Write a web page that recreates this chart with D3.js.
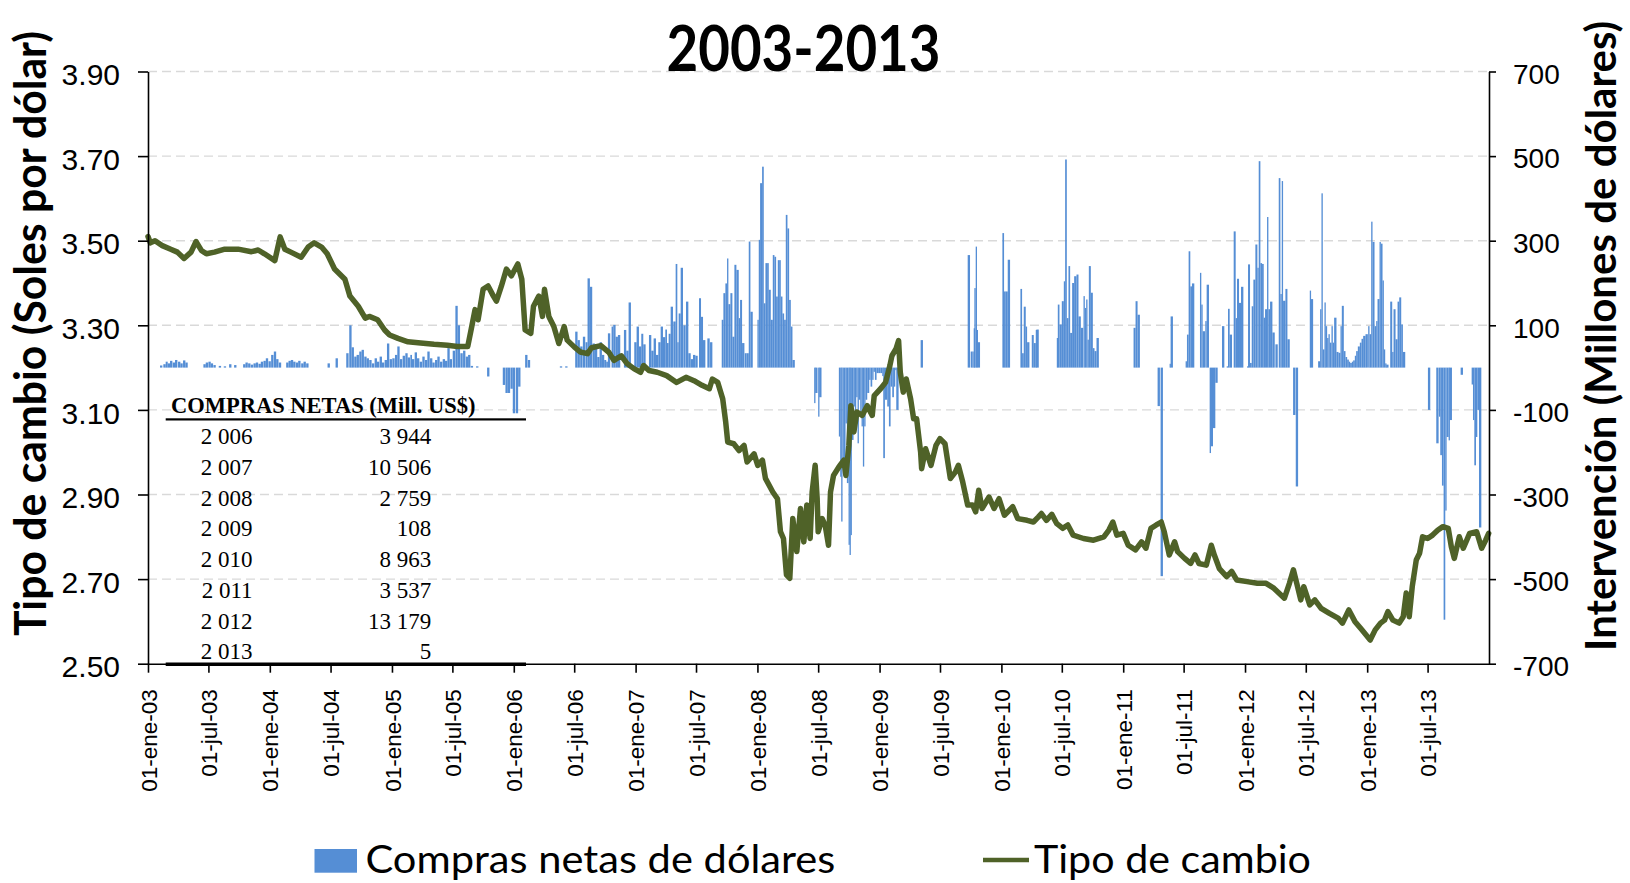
<!DOCTYPE html>
<html><head><meta charset="utf-8">
<script src="https://cdn.jsdelivr.net/npm/d3@7"></script>
<style>body{margin:0;background:#fff}svg{display:block}</style>
</head><body>
<svg id="chart" width="1630" height="883"></svg>
<script>
// ---------------- DATA ----------------
const chartTitle = "2003-2013";
const leftAxisTitle = "Tipo de cambio (Soles por dólar)";
const rightAxisTitle = "Intervención (Millones de dólares)";
const legendLabels = ["Compras netas de dólares", "Tipo de cambio"];
const leftTicks = [2.50, 2.70, 2.90, 3.10, 3.30, 3.50, 3.70, 3.90];
const rightTicks = [-700, -500, -300, -100, 100, 300, 500, 700];
const xTickDates = ["2003-01-01","2003-07-01","2004-01-01","2004-07-01","2005-01-01","2005-07-01","2006-01-01","2006-07-01","2007-01-01","2007-07-01","2008-01-01","2008-07-01","2009-01-01","2009-07-01","2010-01-01","2010-07-01","2011-01-01","2011-07-01","2012-01-01","2012-07-01","2013-01-01","2013-07-01"];
const spanishMonths = ["ene","feb","mar","abr","may","jun","jul","ago","sep","oct","nov","dic"];

const tableHeader = "COMPRAS NETAS (Mill. US$)";
const tableYears = ["2 006","2 007","2 008","2 009","2 010","2 011","2 012","2 013"];
const tableValues = ["3 944","10 506","2 759","108","8 963","3 537","13 179","5"];

// Tipo de cambio (soles por dólar)
const exchangeRate = [
["2003-01-01",3.51],["2003-01-08",3.495],["2003-01-22",3.50],["2003-02-11",3.489],["2003-03-10",3.48],["2003-03-30",3.473],["2003-04-19",3.458],["2003-05-10",3.473],["2003-05-25",3.498],["2003-06-10",3.477],["2003-06-25",3.469],["2003-07-19",3.473],["2003-08-19",3.48],["2003-09-28",3.48],["2003-11-07",3.474],["2003-11-27",3.478],["2003-12-16",3.469],
["2004-01-16",3.453],["2004-02-01",3.509],["2004-02-15",3.48],["2004-03-04",3.473],["2004-04-04",3.461],["2004-04-25",3.485],["2004-05-13",3.495],["2004-06-04",3.485],["2004-06-21",3.469],["2004-07-13",3.433],["2004-08-13",3.409],["2004-08-28",3.369],["2004-09-22",3.345],["2004-10-13",3.317],["2004-10-25",3.321],["2004-11-19",3.313],["2004-12-10",3.289],["2004-12-25",3.277],
["2005-01-19",3.269],["2005-02-18",3.261],["2005-03-28",3.258],["2005-05-07",3.255],["2005-06-16",3.253],["2005-07-16",3.25],["2005-08-16",3.25],["2005-08-25",3.285],["2005-09-07",3.337],["2005-09-16",3.313],["2005-10-01",3.385],["2005-10-16",3.393],["2005-11-01",3.369],["2005-11-10",3.357],["2005-11-25",3.393],["2005-12-10",3.433],["2005-12-25",3.417],
["2006-01-13",3.445],["2006-01-25",3.409],["2006-02-04",3.289],["2006-02-21",3.281],["2006-03-01",3.345],["2006-03-17",3.369],["2006-03-28",3.321],["2006-04-03",3.385],["2006-04-16",3.321],["2006-05-01",3.297],["2006-05-16",3.257],["2006-06-01",3.297],["2006-06-10",3.265],["2006-07-01",3.249],["2006-07-19",3.237],["2006-08-10",3.233],["2006-08-22",3.247],["2006-09-19",3.252],["2006-10-13",3.236],["2006-10-28",3.217],["2006-11-19",3.228],["2006-12-07",3.209],["2006-12-28",3.197],
["2007-01-16",3.189],["2007-01-25",3.205],["2007-02-10",3.193],["2007-03-07",3.189],["2007-04-04",3.181],["2007-05-04",3.165],["2007-06-01",3.177],["2007-06-25",3.169],["2007-07-19",3.158],["2007-08-10",3.15],["2007-08-19",3.173],["2007-09-04",3.165],["2007-09-19",3.126],["2007-09-28",3.071],["2007-10-04",3.024],["2007-10-22",3.020],["2007-11-07",3.004],["2007-11-22",3.016],["2007-12-01",2.977],["2007-12-22",2.996],
["2008-01-02",2.969],["2008-01-16",2.981],["2008-01-25",2.938],["2008-02-16",2.906],["2008-03-01",2.890],["2008-03-10",2.812],["2008-03-19",2.796],["2008-03-28",2.710],["2008-04-07",2.702],["2008-04-16",2.843],["2008-04-28",2.765],["2008-05-09",2.867],["2008-05-19",2.788],["2008-05-28",2.875],["2008-06-07",2.796],["2008-06-13",2.906],["2008-06-22",2.969],["2008-06-28",2.890],["2008-07-01",2.812],["2008-07-13",2.843],["2008-07-22",2.827],["2008-08-01",2.780],["2008-08-07",2.906],["2008-08-16",2.945],["2008-09-01",2.965],["2008-09-16",2.981],["2008-09-22",2.945],["2008-10-01",3.016],["2008-10-07",3.110],["2008-10-16",3.048],["2008-10-25",3.095],["2008-11-10",3.087],["2008-11-25",3.110],["2008-12-10",3.087],["2008-12-16",3.134],
["2009-01-04",3.150],["2009-01-19",3.165],["2009-02-01",3.205],["2009-02-07",3.228],["2009-02-19",3.244],["2009-02-27",3.264],["2009-03-04",3.189],["2009-03-13",3.142],["2009-03-22",3.173],["2009-04-04",3.126],["2009-04-13",3.079],["2009-04-22",3.079],["2009-05-04",3.0],["2009-05-07",2.961],["2009-05-19",3.008],["2009-06-04",2.969],["2009-06-19",3.016],["2009-07-01",3.032],["2009-07-16",3.020],["2009-08-01",2.938],["2009-08-16",2.953],["2009-08-25",2.969],["2009-09-07",2.930],["2009-09-22",2.875],["2009-10-07",2.875],["2009-10-16",2.859],["2009-10-25",2.910],["2009-11-04",2.867],["2009-11-25",2.894],["2009-12-10",2.867],["2009-12-25",2.890],
["2010-01-10",2.851],["2010-02-04",2.871],["2010-02-19",2.843],["2010-03-19",2.839],["2010-04-07",2.835],["2010-04-22",2.847],["2010-05-01",2.855],["2010-05-16",2.839],["2010-06-01",2.853],["2010-06-16",2.831],["2010-07-04",2.820],["2010-07-19",2.828],["2010-08-04",2.804],["2010-09-04",2.796],["2010-10-04",2.792],["2010-11-04",2.800],["2010-11-19",2.816],["2010-12-01",2.835],["2010-12-13",2.804],
["2011-01-01",2.808],["2011-01-16",2.780],["2011-02-07",2.769],["2011-02-25",2.788],["2011-03-10",2.773],["2011-03-25",2.820],["2011-04-10",2.828],["2011-04-25",2.835],["2011-05-04",2.812],["2011-05-19",2.757],["2011-06-04",2.788],["2011-06-13",2.765],["2011-07-04",2.749],["2011-07-22",2.737],["2011-08-04",2.757],["2011-08-16",2.737],["2011-09-07",2.733],["2011-09-22",2.780],["2011-10-01",2.757],["2011-10-16",2.725],["2011-11-07",2.706],["2011-11-22",2.718],["2011-12-07",2.698],
["2012-01-07",2.694],["2012-02-07",2.690],["2012-03-04",2.690],["2012-03-28",2.678],["2012-04-28",2.655],["2012-05-13",2.690],["2012-05-25",2.722],["2012-06-04",2.690],["2012-06-16",2.651],["2012-06-25",2.682],["2012-07-13",2.639],["2012-07-28",2.651],["2012-08-16",2.631],["2012-09-10",2.619],["2012-10-07",2.607],["2012-10-19",2.596],["2012-11-07",2.627],["2012-11-25",2.600],["2012-12-16",2.580],
["2013-01-10",2.556],["2013-01-25",2.580],["2013-02-10",2.596],["2013-02-22",2.603],["2013-03-04",2.623],["2013-03-19",2.603],["2013-04-07",2.596],["2013-04-19",2.611],["2013-04-28",2.667],["2013-05-07",2.611],["2013-05-16",2.682],["2013-05-28",2.745],["2013-06-07",2.761],["2013-06-16",2.800],["2013-07-01",2.796],["2013-07-16",2.804],["2013-08-01",2.816],["2013-08-16",2.824],["2013-09-01",2.820],["2013-09-10",2.777],["2013-09-19",2.749],["2013-10-04",2.800],["2013-10-16",2.773],["2013-11-04",2.808],["2013-11-25",2.812],["2013-12-10",2.773],["2013-12-22",2.792],["2013-12-31",2.808]
];

// Compras netas de dólares (millones US$)
const netPurchases = [
["2003-02-06",5],["2003-02-16",8],["2003-02-23",14],["2003-03-01",10],["2003-03-08",16],["2003-03-16",12],["2003-03-23",18],["2003-04-01",14],["2003-04-08",10],["2003-04-16",17],["2003-04-23",12],
["2003-06-16",8],["2003-06-23",12],["2003-07-01",14],["2003-07-08",10],["2003-07-16",6],["2003-08-01",4],["2003-08-16",3],["2003-09-01",8],["2003-09-16",6],
["2003-10-13",8],["2003-10-20",12],["2003-10-28",10],["2003-11-05",7],["2003-11-13",10],["2003-11-20",12],["2003-11-28",9],["2003-12-05",14],["2003-12-13",16],["2003-12-20",22],["2003-12-28",15],
["2004-01-05",30],["2004-01-13",38],["2004-01-20",20],["2004-01-28",12],
["2004-02-19",12],["2004-02-26",16],["2004-03-04",18],["2004-03-11",14],["2004-03-19",12],["2004-03-26",16],["2004-04-04",10],["2004-04-11",14],["2004-04-19",10],
["2004-06-22",10],["2004-07-16",22],
["2004-08-17",34],["2004-08-26",100],["2004-09-02",48],["2004-09-10",26],["2004-09-17",30],["2004-09-25",38],["2004-10-02",42],["2004-10-10",26],["2004-10-17",22],["2004-10-25",18],["2004-11-02",10],["2004-11-10",22],["2004-11-17",14],["2004-11-25",26],["2004-12-02",12],["2004-12-10",18],["2004-12-17",57],["2004-12-25",20],
["2005-01-02",22],["2005-01-10",30],["2005-01-17",50],["2005-01-25",20],["2005-02-02",28],["2005-02-10",34],["2005-02-17",24],["2005-02-25",30],["2005-03-02",20],["2005-03-10",36],["2005-03-17",22],["2005-03-25",14],["2005-04-02",26],["2005-04-10",18],["2005-04-17",38],["2005-04-25",22],["2005-05-02",12],["2005-05-10",18],["2005-05-17",26],["2005-05-25",14],["2005-06-02",20],["2005-06-09",16],["2005-06-16",46],["2005-06-23",20],["2005-07-02",40],["2005-07-10",146],["2005-07-17",100],["2005-07-25",34],["2005-08-02",40],["2005-08-10",26],["2005-08-17",30],["2005-08-25",4],["2005-09-10",3],
["2005-10-13",-21],["2005-11-29",-41],["2005-12-07",-60],["2005-12-14",-60],["2005-12-22",-50],["2005-12-29",-108],["2006-01-07",-108],["2006-01-14",-45],
["2006-02-04",30],["2006-02-12",18],["2006-05-19",3],["2006-06-04",3],
["2006-07-04",85],["2006-07-11",65],["2006-07-19",50],["2006-07-27",73],["2006-08-04",60],["2006-08-10",211],["2006-08-17",191],["2006-08-25",57],
["2006-09-01",45],["2006-09-08",25],["2006-09-15",60],["2006-09-22",30],["2006-09-29",18],["2006-10-05",14],["2006-10-10",81],["2006-10-21",97],["2006-10-26",101],["2006-11-02",73],["2006-11-09",77],["2006-11-27",89],["2006-12-04",40],["2006-12-11",154],["2006-12-28",60],
["2007-01-04",97],["2007-01-11",50],["2007-01-18",80],["2007-01-24",55],["2007-02-10",77],["2007-02-17",40],["2007-02-24",69],["2007-03-03",30],["2007-03-10",60],["2007-03-17",97],["2007-03-24",72],["2007-03-31",90],["2007-04-05",58],["2007-04-10",80],["2007-04-16",144],["2007-04-24",109],["2007-05-01",245],["2007-05-06",60],["2007-05-10",128],["2007-05-16",236],["2007-05-24",100],["2007-06-01",156],["2007-06-08",34],["2007-06-15",20],["2007-06-22",30],["2007-06-29",28],["2007-07-10",164],["2007-07-16",120],["2007-07-22",65],["2007-08-04",69],["2007-08-12",60],
["2007-09-16",113],["2007-09-21",176],["2007-09-27",199],["2007-10-02",258],["2007-10-06",150],["2007-10-12",176],["2007-10-18",73],["2007-10-24",243],["2007-10-30",231],["2007-11-06",117],["2007-11-10",160],["2007-11-16",58],["2007-11-24",34],["2007-11-29",34],["2007-12-06",298],["2007-12-11",132],
["2008-01-01",113],["2008-01-05",302],["2008-01-09",436],["2008-01-15",475],["2008-01-20",152],["2008-01-25",247],["2008-01-30",247],["2008-02-04",184],["2008-02-10",113],["2008-02-16",266],["2008-02-21",262],["2008-02-26",168],["2008-03-02",254],["2008-03-06",254],["2008-03-11",168],["2008-03-16",128],["2008-03-21",113],["2008-03-26",361],["2008-03-31",329],["2008-04-05",160],["2008-04-10",97],["2008-04-15",18],
["2008-06-19",-84],["2008-06-22",-60],["2008-07-01",-116],["2008-07-04",-70],
["2008-09-01",-163],["2008-09-05",-258],["2008-09-08",-364],["2008-09-12",-218],["2008-09-16",-218],["2008-09-21",-132],["2008-09-25",-273],["2008-09-30",-419],["2008-10-03",-443],["2008-10-06",-396],["2008-10-10",-171],["2008-10-15",-92],["2008-10-19",-150],["2008-10-23",-70],["2008-10-27",-179],["2008-10-31",-76],["2008-11-04",-116],["2008-11-08",-139],["2008-11-12",-234],["2008-11-16",-139],["2008-11-20",-76],["2008-11-25",-60],["2008-12-01",-29],["2008-12-05",-45],["2008-12-10",-29],["2008-12-14",-10],["2008-12-18",-29],["2008-12-23",-13],["2008-12-28",-13],
["2009-01-04",-13],["2009-01-09",-20],["2009-01-12",-214],["2009-01-17",-76],["2009-01-24",-92],["2009-01-29",-139],["2009-02-03",-45],["2009-02-08",-70],["2009-02-13",-45],["2009-02-17",-6],["2009-02-20",-100],
["2009-05-04",65],
["2009-09-22",266],["2009-10-01",38],["2009-10-06",38],["2009-10-10",93],["2009-10-12",188],["2009-10-16",286],["2009-10-19",89],["2009-10-22",60],
["2010-01-04",318],["2010-01-09",180],["2010-01-14",180],["2010-01-20",255],["2010-02-27",186],["2010-03-04",34],["2010-03-09",144],["2010-03-15",97],["2010-03-19",60],["2010-04-02",77],["2010-04-08",58],["2010-04-14",89],["2010-04-16",90],
["2010-06-16",70],["2010-06-19",149],["2010-06-24",102],["2010-07-01",157],["2010-07-07",204],["2010-07-11",492],["2010-07-16",117],["2010-07-21",240],["2010-07-26",82],["2010-08-01",200],["2010-08-07",216],["2010-08-14",220],["2010-08-20",121],["2010-08-27",94],["2010-09-04",169],["2010-09-08",141],["2010-09-12",161],["2010-09-16",66],["2010-09-20",240],["2010-09-26",177],["2010-10-02",46],["2010-10-07",39],["2010-10-13",70],
["2011-02-01",94],["2011-02-07",157],["2011-02-13",125],
["2011-04-14",-91],["2011-04-23",-493],
["2011-05-20",9],["2011-05-23",121],
["2011-07-07",15],["2011-07-11",78],["2011-07-16",275],["2011-07-21",192],["2011-07-26",199],["2011-08-19",224],["2011-08-23",149],["2011-08-27",86],["2011-09-04",110],["2011-09-08",196],
["2011-09-17",-202],["2011-09-21",-186],["2011-09-27",-143],["2011-10-04",-36],
["2011-10-24",98],["2011-11-07",3],["2011-11-11",139],["2011-11-16",78],["2011-11-28",322],["2011-12-04",117],["2011-12-08",210],["2011-12-14",153],["2011-12-20",191],
["2012-01-07",3],["2012-01-10",244],["2012-01-16",11],["2012-01-21",145],["2012-01-26",208],["2012-02-01",291],["2012-02-07",236],["2012-02-11",488],["2012-02-16",247],["2012-02-21",245],["2012-02-26",118],["2012-03-01",138],["2012-03-07",356],["2012-03-11",138],["2012-03-16",156],["2012-03-23",83],["2012-04-01",55],["2012-04-11",448],["2012-04-16",174],["2012-04-20",441],["2012-04-24",158],["2012-05-01",186],["2012-05-07",67],
["2012-05-24",-112],["2012-06-01",-281],
["2012-07-13",182],["2012-07-16",162],
["2012-08-07",15],["2012-08-13",138],["2012-08-17",412],["2012-08-21",43],["2012-08-26",154],["2012-08-29",98],["2012-09-03",70],["2012-09-07",79],["2012-09-11",59],["2012-09-16",98],["2012-09-20",59],["2012-09-24",118],["2012-10-01",37],["2012-10-07",35],["2012-10-13",98],["2012-10-17",146],["2012-10-23",39],["2012-10-28",25],["2012-11-02",19],["2012-11-07",14],["2012-11-11",11],["2012-11-16",14],["2012-11-20",17],["2012-11-25",28],["2012-11-29",39],["2012-12-04",50],["2012-12-10",59],["2012-12-15",68],["2012-12-20",75],["2012-12-27",79],
["2013-01-04",98],["2013-01-08",79],["2013-01-13",345],["2013-01-17",297],["2013-01-23",98],["2013-01-28",110],["2013-02-01",162],["2013-02-07",297],["2013-02-11",293],["2013-02-16",206],["2013-02-20",43],["2013-02-24",10],["2013-02-27",7],
["2013-03-11",156],["2013-03-17",37],["2013-03-21",138],["2013-03-27",67],["2013-04-02",156],["2013-04-07",166],["2013-04-13",102],["2013-04-18",37],
["2013-07-02",-100],["2013-07-27",-179],["2013-08-04",-116],["2013-08-08",-207],["2013-08-13",-279],["2013-08-18",-596],["2013-08-23",-338],["2013-08-27",-164],["2013-09-02",-172],["2013-09-05",-124],
["2013-10-08",-17],["2013-11-10",-40],["2013-11-14",-124],["2013-11-18",-231],["2013-11-23",-164],["2013-11-27",-100],["2013-12-02",-378]
];

// ---------------- CHART ----------------
const parse = d3.timeParse("%Y-%m-%d");
const svg = d3.select("#chart");
const barColor = "#558ED5", lineColor = "#4F6228";
const sansTick = "'Liberation Sans', Arial, sans-serif";
const calib = "Lato, 'Open Sans', sans-serif";
const serif = "'Liberation Serif', 'Times New Roman', serif";

const x = d3.scaleTime().domain([parse("2003-01-01"), parse("2014-01-01")]).range([148, 1489]);
const yL = d3.scaleLinear().domain([2.5, 3.9]).range([663.7, 71.5]);
const yR = d3.scaleLinear().domain([-700, 700]).range([663.7, 71.5]);

// gridlines
svg.append("g").selectAll("line").data(leftTicks.filter(t => t > 2.5)).join("line")
  .attr("x1", x.range()[0]).attr("x2", x.range()[1])
  .attr("y1", d => yL(d)).attr("y2", d => yL(d))
  .attr("stroke", "#d9d9d9").attr("stroke-width", 1.4).attr("stroke-dasharray", "9,5");

// bars
const bars = netPurchases.map(d => ({date: parse(d[0]), v: d[1]})).sort((a, b) => a.date - b.date);
const maxW = x(parse("2003-01-08")) - x(parse("2003-01-01"));
bars.forEach((b, i) => {
  const nx = i < bars.length - 1 ? x(bars[i + 1].date) - x(b.date) : maxW;
  b.w = Math.max(1.3, Math.min(nx, maxW));
});
svg.append("g").selectAll("rect").data(bars).join("rect")
  .attr("x", d => x(d.date))
  .attr("width", d => d.w)
  .attr("y", d => yR(Math.max(0, d.v)))
  .attr("height", d => Math.abs(yR(d.v) - yR(0)))
  .attr("fill", barColor);

// line
const lineData = exchangeRate.map(d => ({date: parse(d[0]), v: d[1]}));
svg.append("path").datum(lineData)
  .attr("d", d3.line().x(d => x(d.date)).y(d => yL(d.v)))
  .attr("fill", "none").attr("stroke", lineColor).attr("stroke-width", 5.5)
  .attr("stroke-linejoin", "round").attr("stroke-linecap", "round");

// table
const tbl = svg.append("g");
tbl.append("text").attr("x", 171).attr("y", 412.7).text(tableHeader)
  .attr("font-family", serif).attr("font-weight", "bold").attr("font-size", 22.5).attr("fill", "#000");
tbl.append("rect").attr("x", 165.7).attr("y", 418.3).attr("width", 360.3).attr("height", 2.2).attr("fill", "#000");
tbl.append("rect").attr("x", 165.7).attr("y", 662.5).attr("width", 360.3).attr("height", 3.5).attr("fill", "#000");
tableYears.forEach((yr, i) => {
  const by = 444 + i * 30.75;
  tbl.append("text").attr("x", 252.6).attr("y", by).attr("text-anchor", "end").text(yr)
    .attr("font-family", serif).attr("font-size", 23).attr("fill", "#000");
  tbl.append("text").attr("x", 431.3).attr("y", by).attr("text-anchor", "end").text(tableValues[i])
    .attr("font-family", serif).attr("font-size", 23).attr("fill", "#000");
});

// axes
const esLocale = d3.timeFormatLocale({
  dateTime: "%x, %X", date: "%d/%m/%Y", time: "%H:%M:%S", periods: ["AM", "PM"],
  days: ["domingo","lunes","martes","miércoles","jueves","viernes","sábado"],
  shortDays: ["dom","lun","mar","mié","jue","vie","sáb"],
  months: ["enero","febrero","marzo","abril","mayo","junio","julio","agosto","septiembre","octubre","noviembre","diciembre"],
  shortMonths: spanishMonths
});
const fmtDate = esLocale.format("%d-%b-%y");

const gL = svg.append("g").attr("transform", `translate(${x.range()[0]},0)`)
  .call(d3.axisLeft(yL).tickValues(leftTicks).tickFormat(d3.format(".2f")).tickSize(10).tickSizeOuter(0).tickPadding(18));
const gR = svg.append("g").attr("transform", `translate(${x.range()[1]},0)`)
  .call(d3.axisRight(yR).tickValues(rightTicks).tickFormat(d => String(d)).tickSize(7).tickSizeOuter(0).tickPadding(17));
const gB = svg.append("g").attr("transform", `translate(0,${yL(2.5)})`)
  .call(d3.axisBottom(x).tickValues(xTickDates.map(parse)).tickFormat(fmtDate).tickSize(9).tickSizeOuter(0));

[gL, gR, gB].forEach(g => {
  g.select(".domain").attr("stroke", "#000").attr("stroke-width", 1.6);
  g.selectAll(".tick line").attr("stroke", "#000").attr("stroke-width", 1.6);
  g.selectAll("text").attr("fill", "#000").attr("font-family", sansTick);
});
gL.selectAll("text").attr("font-size", 30).attr("dy", "0.44em");
gR.selectAll("text").attr("font-size", 28).attr("dy", "0.42em");
gB.selectAll("text").attr("font-size", 22.5)
  .attr("y", null).attr("dy", "0.36em").attr("text-anchor", "end")
  .attr("transform", "translate(0,25.5) rotate(-90)");

// title and axis titles
svg.append("text").attr("x", 803.5).attr("y", 70.7).attr("text-anchor", "middle").text(chartTitle)
  .attr("font-family", calib).attr("font-weight", "bold").attr("font-size", 63)
  .attr("textLength", 274).attr("lengthAdjust", "spacingAndGlyphs");
svg.append("text").attr("transform", "translate(46,333.6) rotate(-90)").attr("text-anchor", "middle").text(leftAxisTitle)
  .attr("font-family", calib).attr("font-weight", "bold").attr("font-size", 44)
  .attr("textLength", 605).attr("lengthAdjust", "spacingAndGlyphs");
svg.append("text").attr("transform", "translate(1616,336) rotate(-90)").attr("text-anchor", "middle").text(rightAxisTitle)
  .attr("font-family", calib).attr("font-weight", "bold").attr("font-size", 42)
  .attr("textLength", 630).attr("lengthAdjust", "spacingAndGlyphs");

// legend
const lg = svg.append("g");
lg.append("rect").attr("x", 314.5).attr("y", 849).attr("width", 42.5).attr("height", 23.7).attr("fill", barColor);
lg.append("text").attr("x", 365.4).attr("y", 873).text(legendLabels[0])
  .attr("font-family", calib).attr("font-size", 39).attr("textLength", 470).attr("lengthAdjust", "spacingAndGlyphs");
lg.append("line").attr("x1", 983).attr("x2", 1029).attr("y1", 860).attr("y2", 860)
  .attr("stroke", lineColor).attr("stroke-width", 4.5);
lg.append("text").attr("x", 1034).attr("y", 873).text(legendLabels[1])
  .attr("font-family", calib).attr("font-size", 39).attr("textLength", 277).attr("lengthAdjust", "spacingAndGlyphs");
</script>
</body></html>
